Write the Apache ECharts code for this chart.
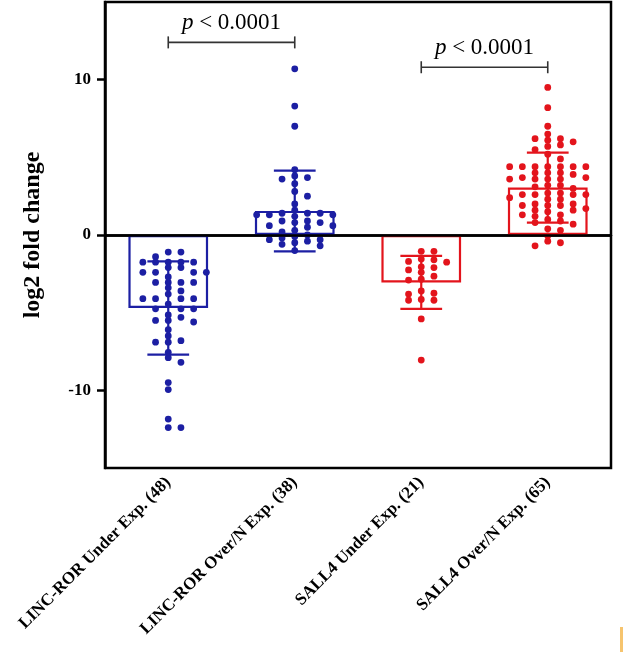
<!DOCTYPE html>
<html>
<head>
<meta charset="utf-8">
<script src="https://cdn.jsdelivr.net/npm/echarts@6/dist/echarts.min.js"></script>
<style>html,body{margin:0;padding:0;background:#fff;}#c{width:626px;height:658px;}</style>
</head>
<body>
<div id="c"></div>
<script>
// ---------- data ----------
const categories = ['LINC-ROR Under Exp. (48)', 'LINC-ROR Over/N Exp. (38)', 'SALL4 Under Exp. (21)', 'SALL4 Over/N Exp. (65)'];
const groupColors = ['#1c1fa3', '#1c1fa3', '#e3141c', '#e3141c'];
const means = [-4.7, 1.55, -3.05, 3.05];
const sds = [3.0, 2.6, 1.7, 2.25];

const lincUnder = [-1.1, -1.1, -1.4, -1.75, -1.75, -1.75, -1.75, -1.75, -2.1, -2.1,
  -2.4, -2.4, -2.4, -2.4, -2.7, -3.05, -3.05, -3.05, -3.05, -3.4, -3.6, -3.8,
  -4.1, -4.1, -4.1, -4.1, -4.45, -4.75, -4.75, -4.75, -5.15, -5.3, -5.5, -5.5, -5.6,
  -6.1, -6.5, -6.9, -6.9, -6.8, -7.55, -7.9, -8.2, -9.5, -9.95, -11.85, -12.4, -12.4];
const lincOver = [10.7, 8.3, 7.0, 4.2, 3.8, 3.7, 3.6, 3.3, 2.8, 2.5, 2.0, 1.6, 1.4, 1.4, 1.4,
  1.3, 1.3, 1.3, 1.2, 0.9, 0.9, 0.8, 0.8, 0.6, 0.6, 0.5, 0.3, 0.2, 0.0, -0.1, -0.2, -0.3,
  -0.3, -0.4, -0.5, -0.6, -0.7, -1.0];
const sallUnder = [-1.05, -1.05, -1.6, -1.55, -1.75, -1.7, -2.25, -2.05, -2.1, -2.4, -2.85,
  -2.65, -2.9, -3.75, -4.2, -4.15, -3.8, -4.2, -3.6, -5.4, -8.05];
const sallOver = [9.5, 8.2, 7.0, 6.5, 6.2, 6.2, 6.1, 6.0, 5.8, 5.7, 5.5, 5.2, 4.9,
  4.4, 4.4, 4.4, 4.4, 4.4, 4.4, 4.4, 4.0, 4.0, 4.0, 3.9, 3.7, 3.7, 3.6, 3.6, 3.6, 3.6,
  3.2, 3.2, 3.1, 3.0, 2.7, 2.7, 2.6, 2.6, 2.6, 2.6, 2.4, 2.3, 2.3, 2.0, 2.0, 1.9, 1.9, 1.9,
  1.7, 1.6, 1.6, 1.5, 1.3, 1.3, 1.2, 1.0, 0.9, 0.8, 0.7, 0.4, 0.3, -0.05, -0.4, -0.5, -0.7];
const groups = [lincUnder, lincOver, sallUnder, sallOver];

// significance brackets: [fromCategory, toCategory, bracketValue]
const brackets = [[0, 1, 12.4], [2, 3, 10.8]];
const bracketText = 'p < 0.0001';
const yTicks = [-10, 0, 10];

// ---------- chart ----------
const SERIF = "'Liberation Serif', 'DejaVu Serif', serif";
const chart = echarts.init(document.getElementById('c'), null, {renderer: 'canvas'});

const dotData = [];
groups.forEach((arr, g) => arr.forEach(v => dotData.push([g, v])));

function computeLayout(api) {
  const out = [];
  const spacing = 12.7, minDy = 5.4;
  let offset = 0;
  groups.forEach((arr, g) => {
    const pts = arr.map((v, i) => ({v, idx: offset + i, p: api.coord([g, v])}));
    pts.sort((a, b) => b.v - a.v);
    const cols = {};
    pts.forEach(pt => {
      for (let t = 0; t < 30; t++) {
        const k = t === 0 ? 0 : (t % 2 ? (t + 1) / 2 : -t / 2);
        const ys = cols[k] || [];
        if (ys.every(y => Math.abs(y - pt.p[1]) >= minDy)) {
          ys.push(pt.p[1]); cols[k] = ys;
          out[pt.idx] = [pt.p[0] + k * spacing, pt.p[1]];
          break;
        }
      }
    });
    offset += arr.length;
  });
  return out;
}

const option = {
  animation: false,
  backgroundColor: '#fff',
  grid: {left: 105, right: 15, top: 2, bottom: 190, show: true, borderColor: '#000', borderWidth: 2.5, backgroundColor: 'transparent'},
  xAxis: {
    type: 'category', data: categories,
    axisLine: {lineStyle: {color: '#000', width: 2.5}},
    axisTick: {alignWithLabel: true, length: 7, lineStyle: {color: '#000', width: 2.5}},
    axisLabel: {rotate: 45, margin: 12, color: '#000', fontFamily: SERIF, fontWeight: 'bold', fontSize: 17, interval: 0},
    splitLine: {show: false}
  },
  yAxis: {
    type: 'value', min: -15, max: 15, interval: 5,
    name: 'log2 fold change', nameLocation: 'middle', nameGap: 60, nameRotate: 90,
    nameTextStyle: {color: '#000', fontFamily: SERIF, fontWeight: 'bold', fontSize: 24},
    axisLine: {show: true, lineStyle: {color: '#000', width: 2.5}},
    axisTick: {show: true, length: 8, customValues: yTicks, lineStyle: {color: '#000', width: 2.5}},
    axisLabel: {customValues: yTicks, margin: 14, color: '#000', fontFamily: SERIF, fontWeight: 'bold', fontSize: 17},
    splitLine: {show: false}
  },
  series: [
    {
      type: 'bar', barWidth: '63%', z: 2,
      data: means.map((m, i) => ({value: m, itemStyle: {color: 'rgba(0,0,0,0)', borderColor: groupColors[i], borderWidth: 2.2}})),
      markLine: {silent: true, symbol: 'none', label: {show: false}, lineStyle: {color: '#000', width: 2.5, type: 'solid'}, data: [{yAxis: 0}]}
    },
    {
      type: 'custom', z: 3, data: dotData,
      renderItem: function (params, api) {
        if (!params.context.layout) params.context.layout = computeLayout(api);
        const pos = params.context.layout[params.dataIndex];
        const g = api.value(0);
        return {type: 'circle', shape: {cx: pos[0], cy: pos[1], r: 3.4}, style: {fill: groupColors[g]}};
      }
    },
    {
      type: 'custom', z: 4,
      data: means.map((m, i) => [i, m, sds[i]]),
      renderItem: function (params, api) {
        const g = api.value(0), m = api.value(1), s = api.value(2);
        const top = api.coord([g, m + s]);
        const bot = api.coord([g, m - s]);
        const half = api.size([1, 0])[0] * 0.165;
        const st = {stroke: groupColors[g], lineWidth: 2.2};
        return {type: 'group', children: [
          {type: 'line', shape: {x1: top[0], y1: top[1], x2: bot[0], y2: bot[1]}, style: st},
          {type: 'line', shape: {x1: top[0] - half, y1: top[1], x2: top[0] + half, y2: top[1]}, style: st},
          {type: 'line', shape: {x1: bot[0] - half, y1: bot[1], x2: bot[0] + half, y2: bot[1]}, style: st}
        ]};
      }
    },
    {
      type: 'custom', z: 5,
      data: brackets,
      renderItem: function (params, api) {
        const a = api.coord([api.value(0), api.value(2)]);
        const b = api.coord([api.value(1), api.value(2)]);
        const st = {stroke: '#333', lineWidth: 1.6};
        return {type: 'group', children: [
          {type: 'line', shape: {x1: a[0], y1: a[1], x2: b[0], y2: b[1]}, style: st},
          {type: 'line', shape: {x1: a[0], y1: a[1] - 6, x2: a[0], y2: a[1] + 6}, style: st},
          {type: 'line', shape: {x1: b[0], y1: b[1] - 6, x2: b[0], y2: b[1] + 6}, style: st},
          {type: 'text', x: (a[0] + b[0]) / 2, y: a[1] - 8, style: {
            text: '{i|p} < 0.0001', align: 'center', verticalAlign: 'bottom', fill: '#000',
            fontFamily: SERIF, fontSize: 23,
            rich: {i: {fontStyle: 'italic', fontFamily: SERIF, fontSize: 23, fill: '#000'}}
          }}
        ]};
      }
    }
  ],
  graphic: [{type: 'rect', left: 620, top: 627, shape: {width: 3, height: 25}, style: {fill: '#f6c46e'}}]
};
chart.setOption(option);
</script>
</body>
</html>
